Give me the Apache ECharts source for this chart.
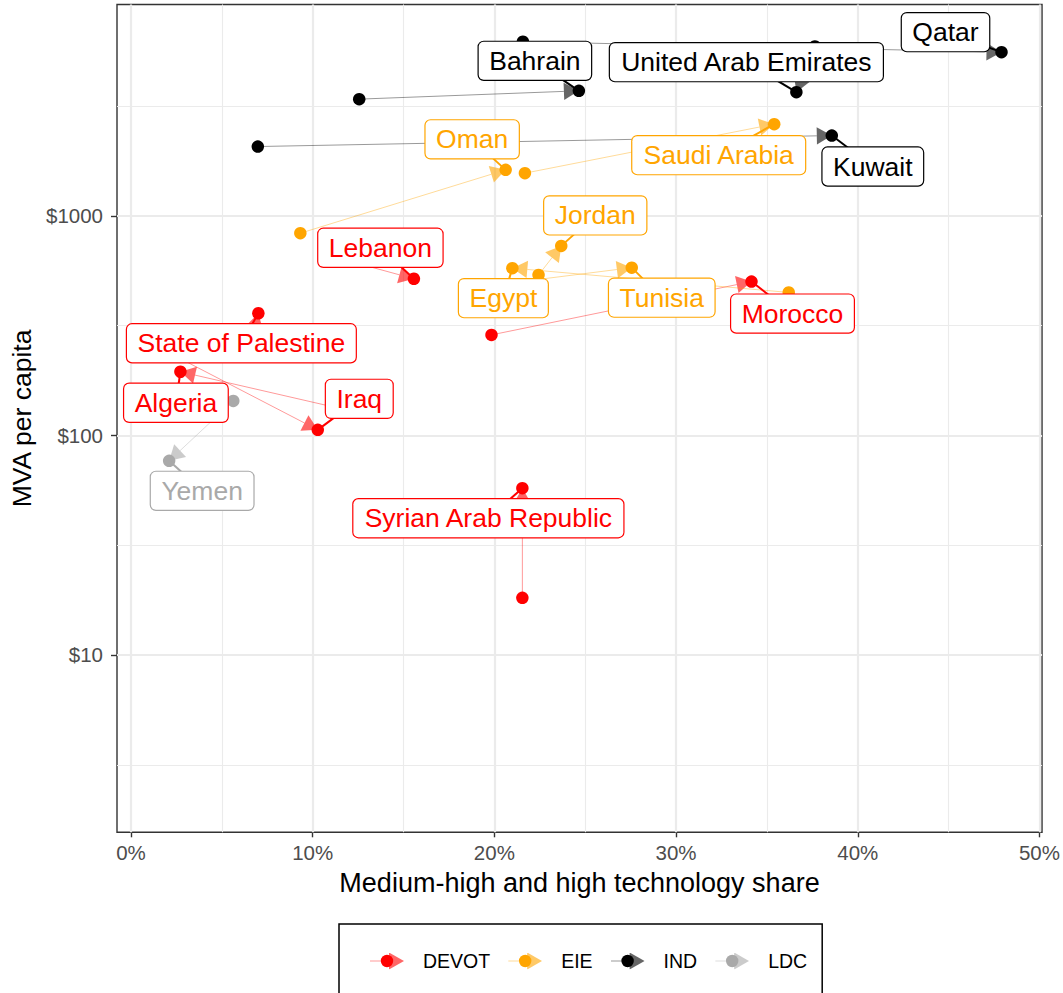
<!DOCTYPE html>
<html>
<head>
<meta charset="utf-8">
<script src="https://cdn.jsdelivr.net/npm/echarts@6/dist/echarts.min.js"></script>
<style>
html,body{margin:0;padding:0;background:#fff;}
#chart{width:1063px;height:993px;}
</style>
</head>
<body>
<div id="chart"></div>
<script>
// ---- data ----
const countries = ['Algeria','Iraq','Lebanon','Morocco','State of Palestine','Syrian Arab Republic',
  'Egypt','Jordan','Oman','Saudi Arabia','Tunisia',
  'Bahrain','Kuwait','Qatar','United Arab Emirates','Yemen'];
const groupOf = ['DEVOT','DEVOT','DEVOT','DEVOT','DEVOT','DEVOT',
  'EIE','EIE','EIE','EIE','EIE',
  'IND','IND','IND','IND','LDC'];
// medium-high & high tech share (%), first and last year
const mhtStart = [12.32, 1.88, 11.77, 19.84, 6.55, 21.54, 36.20, 22.43, 9.32, 21.68, 19.19, 12.56, 6.98, 21.57, 37.64, 5.63];
const mhtEnd   = [2.72, 10.28, 15.57, 34.15, 7.01, 21.54, 20.99, 23.68, 20.62, 35.40, 27.56, 24.65, 38.57, 47.91, 36.62, 2.10];
// MVA per capita ($), first and last year
const mvaStart = [128, 243, 630, 287, 258, 18.2, 448, 538, 834, 1565, 475, 3402, 2069, 6213, 5907, 143.6];
const mvaEnd   = [195, 106, 517, 502, 360, 57.5, 578, 730, 1620, 2617, 581, 3711, 2322, 5569, 3661, 76.6];

const groups = ['DEVOT','EIE','IND','LDC'];
const xTicks = [0, 10, 20, 30, 40, 50];
const xMinor = [5, 15, 25, 35, 45];
const yTicks = [10, 100, 1000];
const yMinor = [3.1623, 31.623, 316.23, 3162.3];

// ---- styles / layout (kept apart from the data) ----
const groupColors = {DEVOT:'#FF0000', EIE:'#FFA500', IND:'#000000', LDC:'#A9A9A9'};
// label offset from its point, in pixels (like a repel result)
const labelNudge = [[-4.5,31],[41.5,-31],[-33.5,-31],[41,32],[-17,30],[-34,30],
  [-9,30],[34,-30.5],[-33.5,-30.5],[-55.5,31],[30,30],
  [-44,-30],[41,31],[-56,-20],[-50,-30],[33,30]];
const FONT = "'Liberation Sans', Arial, Helvetica, sans-serif";
const GRID = '#EBEBEB';

const chart = echarts.init(document.getElementById('chart'), null, {renderer: 'svg'});

function arrowItem(params, api) {
  const p1 = api.coord([api.value(0), api.value(1)]);
  const p2 = api.coord([api.value(2), api.value(3)]);
  const dx = p2[0] - p1[0], dy = p2[1] - p1[1];
  const len = Math.hypot(dx, dy) || 1;
  const ux = dx / len, uy = dy / len;
  const L = 15, W = 8.7;
  const bx = p2[0] - ux * L, by = p2[1] - uy * L;
  const color = api.visual('color');
  return {
    type: 'group',
    children: [
      {type: 'line', shape: {x1: p1[0], y1: p1[1], x2: bx, y2: by},
       style: {stroke: color, lineWidth: 1, opacity: 0.4}},
      {type: 'polygon', shape: {points: [[p2[0], p2[1]], [bx - uy * W, by + ux * W], [bx + uy * W, by - ux * W]]},
       style: {fill: color, opacity: 0.6}}
    ]
  };
}

function segItem(params, api) {
  const i = params.dataIndex;
  const p = api.coord([api.value(0), api.value(1)]);
  const n = labelNudge[i];
  const color = groupColors[groupOf[i]];
  return {type: 'line', shape: {x1: p[0], y1: p[1], x2: p[0] + n[0], y2: p[1] + n[1]},
          style: {stroke: color, lineWidth: 2}};
}

function labelItem(params, api) {
  const i = params.dataIndex;
  const p = api.coord([api.value(0), api.value(1)]);
  const n = labelNudge[i];
  const color = groupColors[groupOf[i]];
  return {
    type: 'text', x: p[0] + n[0], y: p[1] + n[1],
    style: {
      text: countries[i], fill: color, fontSize: 26.5, fontFamily: FONT,
      align: 'center', verticalAlign: 'middle', lineHeight: 30,
      backgroundColor: '#FFFFFF', borderColor: color, borderWidth: 1.2,
      borderRadius: 5, padding: [4, 10.5]
    }
  };
}

function legendIcon(color) {
  const svg = "<svg xmlns='http://www.w3.org/2000/svg' width='34' height='17' viewBox='0 0 34 17'>" +
    "<line x1='0' y1='8.5' x2='22' y2='8.5' stroke='" + color + "' stroke-opacity='0.4' stroke-width='1'/>" +
    "<polygon points='19,0 34,8.5 19,17' fill='" + color + "' fill-opacity='0.6'/>" +
    "<circle cx='17' cy='8.5' r='6.2' fill='" + color + "'/></svg>";
  return 'image://data:image/svg+xml;charset=utf-8,' + encodeURIComponent(svg);
}

const series = [];
series.push({
  name: 'grid', type: 'scatter', data: [], silent: true, z: 1,
  markLine: {
    silent: true, symbol: ['none', 'none'], animation: false, z: 1,
    label: {show: false},
    lineStyle: {color: GRID, type: 'solid'},
    data: [].concat(
      xMinor.map(v => ({xAxis: v, lineStyle: {width: 1.1, color: GRID, type: 'solid'}})),
      yMinor.map(v => ({yAxis: v, lineStyle: {width: 1.1, color: GRID, type: 'solid'}})),
      xTicks.map(v => ({xAxis: v, lineStyle: {width: 2.2, color: GRID, type: 'solid'}})),
      yTicks.map(v => ({yAxis: v, lineStyle: {width: 2.2, color: GRID, type: 'solid'}}))
    )
  }
});

groups.forEach(g => {
  const idx = countries.map((c, i) => i).filter(i => groupOf[i] === g);
  series.push({
    name: g, type: 'custom', z: 2, clip: false, silent: true,
    itemStyle: {color: groupColors[g]},
    encode: {x: [0, 2], y: [1, 3]},
    data: idx.map(i => [mhtStart[i], mvaStart[i], mhtEnd[i], mvaEnd[i]]),
    renderItem: arrowItem
  });
});
groups.forEach(g => {
  const idx = countries.map((c, i) => i).filter(i => groupOf[i] === g);
  series.push({
    name: g, type: 'scatter', z: 3, silent: true, symbolSize: 12.5,
    itemStyle: {color: groupColors[g], opacity: 1},
    data: idx.map(i => [mhtStart[i], mvaStart[i]]).concat(idx.map(i => [mhtEnd[i], mvaEnd[i]]))
  });
});
series.push({
  name: 'segments', type: 'custom', z: 4, clip: false, silent: true,
  data: countries.map((c, i) => [mhtEnd[i], mvaEnd[i]]),
  renderItem: segItem
});
series.push({
  name: 'labels', type: 'custom', z: 5, clip: false, silent: true,
  data: countries.map((c, i) => [mhtEnd[i], mvaEnd[i]]),
  renderItem: labelItem
});

chart.setOption({
  animation: false,
  backgroundColor: '#FFFFFF',
  textStyle: {fontFamily: FONT},
  grid: {left: 116.7, right: 19.7, top: 4.5, bottom: 160.7, show: true,
         borderColor: '#333333', borderWidth: 1.4, backgroundColor: 'transparent', containLabel: false},
  legend: {
    data: groups.map(g => ({name: g, icon: legendIcon(groupColors[g]), itemStyle: {color: groupColors[g]}})),
    selectedMode: false, orient: 'horizontal', left: 339, top: 924,
    itemWidth: 34, itemHeight: 17, itemGap: 18,
    padding: [27, 15, 40, 31],
    borderColor: '#000000', borderWidth: 1.5, borderRadius: 0,
    textStyle: {fontSize: 19.5, color: '#000000', fontFamily: FONT, padding: [0, 0, 0, 14]}
  },
  xAxis: {
    type: 'value', min: -0.77, max: 50.14,
    splitLine: {show: false}, minorSplitLine: {show: false},
    axisLine: {show: false, onZero: false},
    axisTick: {show: true, length: 5, customValues: xTicks, lineStyle: {color: '#333333', width: 1.4}},
    axisLabel: {customValues: xTicks, color: '#4D4D4D', fontSize: 20.5, margin: 10,
                formatter: v => (Math.abs(v % 10) < 1e-6 ? Math.round(v) + '%' : '')},
    name: 'Medium-high and high technology share', nameLocation: 'middle', nameGap: 37,
    nameTextStyle: {fontSize: 27, color: '#000000'}
  },
  yAxis: {
    type: 'log', logBase: 10, min: 1.557, max: 9178,
    splitLine: {show: false}, minorSplitLine: {show: false},
    axisLine: {show: false, onZero: false},
    axisTick: {show: true, length: 6, customValues: yTicks, lineStyle: {color: '#333333', width: 1.4}},
    axisLabel: {customValues: yTicks, color: '#4D4D4D', fontSize: 20.5, margin: 14,
                formatter: v => {
                  const l = Math.log10(v);
                  return Math.abs(l - Math.round(l)) < 1e-6 && Math.round(l) >= 1 ? '$' + Math.round(v) : '';
                }},
    name: 'MVA per capita', nameLocation: 'middle', nameGap: 82,
    nameTextStyle: {fontSize: 26.5, color: '#000000'}
  },
  series: series
});
</script>
</body>
</html>
